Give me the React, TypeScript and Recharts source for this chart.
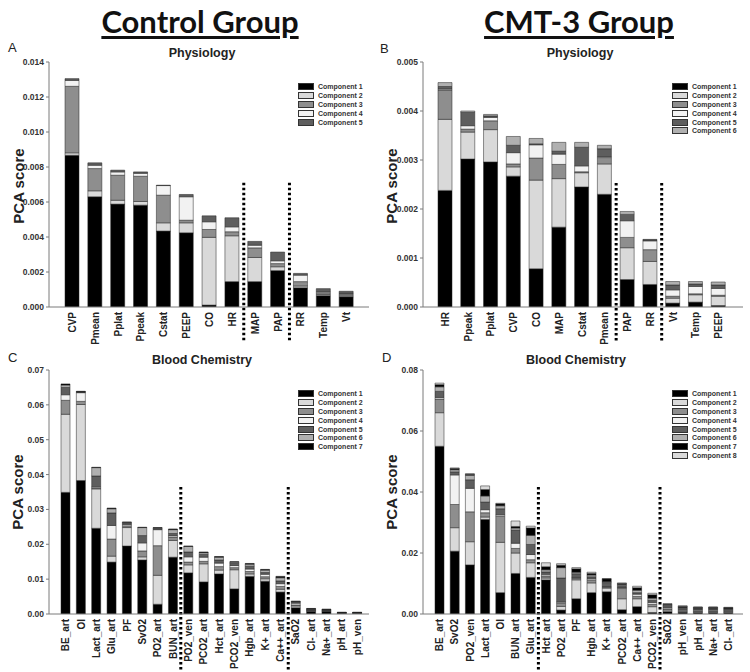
import React from 'react'
import { BarChart, Bar, XAxis, YAxis, ReferenceLine, Legend } from 'recharts'

// shades used for the stacked components (1..8)
const COMP_COLORS = ['#000000', '#d9d9d9', '#8e8e8e', '#f2f2f2', '#5e5e5e', '#b0b0b0', '#000000', '#d9d9d9']

// ---- A: Control Group, Physiology ----
const ctlPhysCats = ['CVP', 'Pmean', 'Pplat', 'Ppeak', 'Cstat', 'PEEP', 'CO', 'HR', 'MAP', 'PAP', 'RR', 'Temp', 'Vt']
const ctlPhysC1 = [0.00867, 0.0063, 0.00588, 0.00582, 0.00434, 0.00424, 0.00011, 0.00145, 0.00145, 0.00208, 0.0011, 0.00065, 0.00058]
const ctlPhysC2 = [0.00014, 0.00034, 0.00022, 0.00021, 0.00047, 0.00057, 0.00387, 0.00262, 0.00138, 0.00022, 0.0001, 0.00007, 0.00005]
const ctlPhysC3 = [0.0038, 0.00127, 0.00143, 0.00144, 0.00158, 0.00015, 0.00045, 0.00023, 0.00055, 0.00018, 0.00025, 0.0001, 0.00012]
const ctlPhysC4 = [0.00034, 0.00019, 0.00019, 0.00017, 0.00055, 0.00134, 0.00044, 0.00028, 0.00015, 0.00016, 0.00037, 0.00006, 0.00003]
const ctlPhysC5 = [0.0001, 0.00014, 0.0001, 0.00008, 0.00002, 0.00013, 0.00034, 0.00052, 0.00022, 0.0005, 0.0001, 0.00017, 0.00012]
const ctlPhysTicks = [0, 0.002, 0.004, 0.006, 0.008, 0.01, 0.012, 0.014]
const ctlPhysSplits = ['HR', 'PAP']

// ---- B: CMT-3 Group, Physiology ----
const cmtPhysCats = ['HR', 'Ppeak', 'Pplat', 'CVP', 'CO', 'MAP', 'Cstat', 'Pmean', 'PAP', 'RR', 'Vt', 'Temp', 'PEEP']
const cmtPhysC1 = [0.00238, 0.00302, 0.00296, 0.00267, 0.00078, 0.00163, 0.00245, 0.0023, 0.00056, 0.00046, 0.00008, 0.0001, 0.00003]
const cmtPhysC2 = [0.00145, 0.00055, 0.00066, 0.00019, 0.00181, 0.00099, 0.00029, 0.00062, 0.00065, 0.00047, 0.0001, 0.00015, 0.00019]
const cmtPhysC3 = [0.0006, 0.00006, 0.00018, 0.00006, 0.00045, 0.00029, 0.00002, 0.00013, 0.00021, 0.00024, 0.00004, 0.00002, 0.00002]
const cmtPhysC4 = [0.00002, 0.00007, 0.00007, 0.00023, 0.00027, 0.00021, 0.00012, 0.00002, 0.00034, 0.00018, 0.00013, 0.00015, 0.00014]
const cmtPhysC5 = [0.00005, 0.00027, 0.00003, 0.00015, 0.00002, 0.00006, 0.00038, 0.00016, 0.00013, 0.00002, 0.0001, 0.00005, 0.00007]
const cmtPhysC6 = [0.00008, 0.00003, 0.00003, 0.00018, 0.00011, 0.00018, 0.0001, 0.00007, 0.00006, 0.00001, 0.00007, 0.00005, 0.00006]
const cmtPhysTicks = [0, 0.001, 0.002, 0.003, 0.004, 0.005]
const cmtPhysSplits = ['Pmean', 'RR']

// ---- C: Control Group, Blood Chemistry ----
const ctlBloodCats = ['BE_art', 'OI', 'Lact_art', 'Glu_art', 'PF', 'SvO2', 'PO2_art', 'BUN_art', 'PO2_ven', 'PCO2_art', 'Hct_art', 'PCO2_ven', 'Hgb_art', 'K+_art', 'Ca++_art', 'SaO2', 'Cl-_art', 'Na+_art', 'pH_art', 'pH_ven']
const ctlBloodC1 = [0.0349, 0.0383, 0.0246, 0.0149, 0.0195, 0.0155, 0.0028, 0.0163, 0.0118, 0.0092, 0.0115, 0.0072, 0.0108, 0.0094, 0.0063, 0.0018, 0.0008, 0.0007, 0.0002, 0.0002]
const ctlBloodC2 = [0.0224, 0.0218, 0.0113, 0.0017, 0.0053, 0.0009, 0.0083, 0.0048, 0.0023, 0.0052, 0.0011, 0.0055, 0.0007, 0.0007, 0.0008, 0.0005, 0.0002, 0.0001, 0.00005, 0.00005]
const ctlBloodC3 = [0.004, 0.0009, 0.0003, 0.0049, 0.0004, 0.0017, 0.0085, 0.001, 0.0008, 0.0007, 0.001, 0.0006, 0.0007, 0.0006, 0.0008, 0.0003, 0.0001, 0.0001, 0.00005, 0.00005]
const ctlBloodC4 = [0.0016, 0.0025, 0.0003, 0.0039, 0.0004, 0.0023, 0.0046, 0.0004, 0.0015, 0.0012, 0.001, 0.0006, 0.0007, 0.0007, 0.0008, 0.0005, 0.0001, 0.0001, 0.00005, 0.00005]
const ctlBloodC5 = [0.0021, 0.0002, 0.0031, 0.0036, 0.0004, 0.0021, 0.0003, 0.0006, 0.0014, 0.0008, 0.0009, 0.0006, 0.0008, 0.0005, 0.0008, 0.0003, 0.0002, 0.0002, 0.00005, 0.00005]
const ctlBloodC6 = [0.0007, 0.0001, 0.0024, 0.0012, 0.0003, 0.0023, 0.0002, 0.0011, 0.0016, 0.0005, 0.0008, 0.0004, 0.0006, 0.0007, 0.0009, 0.0002, 0.0001, 0.0001, 0.00005, 0.00005]
const ctlBloodC7 = [0.0003, 0.0001, 0.0001, 0.0002, 0.0001, 0.0001, 0.0001, 0.0002, 0.0001, 0.0002, 0.0002, 0.0001, 0.0002, 0.0002, 0.0004, 0.0001, 0.0001, 0.0001, 0.00005, 0.00005]
const ctlBloodTicks = [0, 0.01, 0.02, 0.03, 0.04, 0.05, 0.06, 0.07]
const ctlBloodSplits = ['BUN_art', 'Ca++_art']

// ---- D: CMT-3 Group, Blood Chemistry ----
const cmtBloodCats = ['BE_art', 'SvO2', 'PO2_ven', 'Lact_art', 'OI', 'BUN_art', 'Glu_art', 'Hct_art', 'PO2_art', 'PF', 'Hgb_art', 'K+_art', 'PCO2_art', 'Ca++_art', 'PCO2_ven', 'SaO2', 'pH_ven', 'pH_art', 'Na+_art', 'Cl-_art']
const cmtBloodC1 = [0.055, 0.0206, 0.0161, 0.031, 0.007, 0.0133, 0.012, 0.0112, 0.0013, 0.005, 0.007, 0.0073, 0.0014, 0.0024, 0.0005, 0.0008, 0.0006, 0.0005, 0.0005, 0.0005]
const cmtBloodC2 = [0.011, 0.0077, 0.0076, 0.0008, 0.0165, 0.0067, 0.0048, 0.0006, 0.0012, 0.0062, 0.0032, 0.0012, 0.0036, 0.0026, 0.0019, 0.0005, 0.0003, 0.0003, 0.0003, 0.0003]
const cmtBloodC3 = [0.0045, 0.0076, 0.0098, 0.0014, 0.0085, 0.0015, 0.001, 0.0007, 0.001, 0.0006, 0.0008, 0.0003, 0.0035, 0.0008, 0.0008, 0.0004, 0.0003, 0.0003, 0.0003, 0.0003]
const cmtBloodC4 = [0.0005, 0.0097, 0.0077, 0.001, 0.0005, 0.0017, 0.0017, 0.0005, 0.0004, 0.0002, 0.0005, 0.0002, 0.0002, 0.0007, 0.0006, 0.0004, 0.0003, 0.0003, 0.0003, 0.0002]
const cmtBloodC5 = [0.002, 0.001, 0.0028, 0.0025, 0.002, 0.0043, 0.0033, 0.0008, 0.0079, 0.0012, 0.0007, 0.0013, 0.0006, 0.0005, 0.0007, 0.0004, 0.0003, 0.0003, 0.0003, 0.0003]
const cmtBloodC6 = [0.0015, 0.0007, 0.0015, 0.002, 0.001, 0.0007, 0.003, 0.0007, 0.0034, 0.0005, 0.0006, 0.0003, 0.0004, 0.0008, 0.0007, 0.0004, 0.0003, 0.0002, 0.0002, 0.0002]
const cmtBloodC7 = [0.0007, 0.0004, 0.0003, 0.0021, 0.0006, 0.0005, 0.0024, 0.001, 0.0008, 0.0011, 0.0005, 0.0009, 0.0003, 0.0008, 0.0011, 0.0003, 0.0004, 0.0003, 0.0003, 0.0003]
const cmtBloodC8 = [0.0005, 0.0002, 0.0002, 0.0012, 0.0002, 0.0018, 0.0006, 0.0013, 0.0005, 0.0004, 0.0004, 0.0001, 0.0002, 0.0005, 0.0005, 0.0002, 0.0002, 0.0001, 0.0001, 0.0001]
const cmtBloodTicks = [0, 0.02, 0.04, 0.06, 0.08]
const cmtBloodSplits = ['Glu_art', 'PCO2_ven']

const FONT = "Arial, 'Liberation Sans', sans-serif"
const AXIS = '#7a7a7a'

function buildRows(cats: string[], series: number[][]) {
  return cats.map((name, i) => {
    const row: Record<string, any> = { name }
    series.forEach((s, k) => { row['c' + (k + 1)] = s[i] })
    return row
  })
}

const XTick = (props: any) => {
  const { x, y, payload } = props
  return (
    <text x={x} y={y} transform={`rotate(-90 ${x} ${y})`} textAnchor="end" dy="0.35em"
      fontSize={10} fontWeight="bold" fill="#222" fontFamily={FONT}>
      {payload.value}
    </text>
  )
}

const LegendBox = (props: any) => {
  const items = props.payload || []
  return (
    <div style={{ fontFamily: FONT, fontSize: 7, fontWeight: 'bold', color: '#333' }}>
      {items.map((it: any) => (
        <div key={it.value} style={{ display: 'flex', alignItems: 'center', height: 8.8 }}>
          <span style={{ width: 14, height: 5, background: it.color, border: '0.8px solid #333', display: 'inline-block' }} />
          <span style={{ marginLeft: 4, whiteSpace: 'nowrap' }}>{it.value}</span>
        </div>
      ))}
    </div>
  )
}

interface PanelProps {
  cats: string[]
  series: number[][]
  ticks: number[]
  decimals: number
  splits: string[]
  splitRange: [number, number]
  left: number
  top: number
  height: number
  plotTop: number
  yWidth: number
  xHeight: number
  marginBottom: number
  marginRight: number
  barSize: number
  pad: { left: number; right: number }
  legendPos: { left: number; top: number }
}

function Panel(p: PanelProps) {
  const rows = buildRows(p.cats, p.series)
  const max = p.ticks[p.ticks.length - 1]
  return (
    <div style={{ position: 'absolute', left: p.left, top: p.top }}>
      <BarChart width={375} height={p.height} data={rows}
        margin={{ top: p.plotTop, right: p.marginRight, bottom: p.marginBottom, left: 0 }}>
        <XAxis dataKey="name" interval={0} tick={<XTick />} tickLine={false} tickSize={3}
          height={p.xHeight} padding={p.pad} axisLine={{ stroke: AXIS }} />
        <XAxis xAxisId="top" orientation="top" dataKey="name" tick={false} tickLine={false}
          height={0} axisLine={{ stroke: AXIS }} />
        <YAxis domain={[0, max]} ticks={p.ticks} width={p.yWidth} tickSize={3} interval={0}
          tickFormatter={(v: number) => v.toFixed(p.decimals)} axisLine={{ stroke: AXIS }}
          tickLine={{ stroke: AXIS }} allowDataOverflow
          tick={{ fontSize: 8.5, fontWeight: 'bold', fill: '#333', fontFamily: FONT }} />
        <YAxis yAxisId="r" orientation="right" tick={false} tickLine={false} width={0}
          axisLine={{ stroke: AXIS }} />
        {p.series.map((_, k) => (
          <Bar key={k} dataKey={'c' + (k + 1)} name={'Component ' + (k + 1)} stackId="s"
            fill={COMP_COLORS[k]} stroke="#222" strokeWidth={0.5} barSize={p.barSize}
            isAnimationActive={false} />
        ))}
        {p.splits.map((c) => (
          <ReferenceLine key={c} position="end" ifOverflow="visible"
            segment={[{ x: c, y: p.splitRange[0] }, { x: c, y: p.splitRange[1] }]}
            stroke="#000" strokeWidth={3} strokeDasharray="2.5 2.5" />
        ))}
        <Legend layout="vertical" align="center" verticalAlign="middle" content={<LegendBox />}
          wrapperStyle={{ left: p.legendPos.left, top: p.legendPos.top, width: 70 }} />
      </BarChart>
    </div>
  )
}

const txt = (s: React.CSSProperties): React.CSSProperties => ({ position: 'absolute', whiteSpace: 'nowrap', fontFamily: FONT, ...s })

function YLabel({ x, y }: { x: number; y: number }) {
  return (
    <div style={txt({ left: x, top: y, transform: 'translate(-50%, -50%) rotate(-90deg)', fontSize: 15, fontWeight: 'bold', color: '#222' })}>
      PCA score
    </div>
  )
}

function Title({ x, y, text, size = 12.5 }: { x: number; y: number; text: string; size?: number }) {
  return (
    <div style={txt({ left: x, top: y, transform: 'translate(-50%, -50%)', fontSize: size, fontWeight: 'bold', color: '#222' })}>
      {text}
    </div>
  )
}

export default function App() {
  return (
    <div style={{ position: 'absolute', left: 0, top: 0, width: 750, height: 672, background: '#fff', overflow: 'hidden' }}>
      <Panel cats={ctlPhysCats} series={[ctlPhysC1, ctlPhysC2, ctlPhysC3, ctlPhysC4, ctlPhysC5]}
        ticks={ctlPhysTicks} decimals={3} splits={ctlPhysSplits} splitRange={[0.0071, -0.002]}
        left={0} top={0} height={350} plotTop={62} yWidth={49} xHeight={40} marginBottom={3} marginRight={6}
        barSize={14} pad={{ left: 12, right: 11 }} legendPos={{ left: 298, top: 82.6 }} />
      <Panel cats={cmtPhysCats} series={[cmtPhysC1, cmtPhysC2, cmtPhysC3, cmtPhysC4, cmtPhysC5, cmtPhysC6]}
        ticks={cmtPhysTicks} decimals={3} splits={cmtPhysSplits} splitRange={[0.00253, -0.00071]}
        left={375} top={0} height={350} plotTop={62} yWidth={48} xHeight={40} marginBottom={3} marginRight={7}
        barSize={14} pad={{ left: 11, right: 13 }} legendPos={{ left: 297, top: 82.6 }} />
      <Panel cats={ctlBloodCats} series={[ctlBloodC1, ctlBloodC2, ctlBloodC3, ctlBloodC4, ctlBloodC5, ctlBloodC6, ctlBloodC7]}
        ticks={ctlBloodTicks} decimals={2} splits={ctlBloodSplits} splitRange={[0.0364, -0.0161]}
        left={0} top={350} height={322} plotTop={20} yWidth={49} xHeight={55} marginBottom={3} marginRight={6}
        barSize={9} pad={{ left: 9, right: 4 }} legendPos={{ left: 298, top: 39.6 }} />
      <Panel cats={cmtBloodCats} series={[cmtBloodC1, cmtBloodC2, cmtBloodC3, cmtBloodC4, cmtBloodC5, cmtBloodC6, cmtBloodC7, cmtBloodC8]}
        ticks={cmtBloodTicks} decimals={2} splits={cmtBloodSplits} splitRange={[0.0416, -0.0184]}
        left={375} top={350} height={322} plotTop={20} yWidth={48} xHeight={55} marginBottom={3} marginRight={7}
        barSize={9} pad={{ left: 9, right: 7 }} legendPos={{ left: 297, top: 39.6 }} />

      <div style={txt({ left: 200, top: 21, transform: 'translate(-50%, -50%)', fontFamily: 'Lato, sans-serif', fontSize: 31, fontWeight: 'bold', color: '#111', textDecoration: 'underline', textDecorationThickness: 3, textUnderlineOffset: 3 })}>
        Control Group
      </div>
      <div style={txt({ left: 579, top: 21, transform: 'translate(-50%, -50%)', fontFamily: 'Lato, sans-serif', fontSize: 31, fontWeight: 'bold', color: '#111', textDecoration: 'underline', textDecorationThickness: 3, textUnderlineOffset: 3 })}>
        CMT-3 Group
      </div>

      <div style={txt({ left: 8, top: 40, fontSize: 13, color: '#222' })}>A</div>
      <div style={txt({ left: 380, top: 41, fontSize: 13, color: '#222' })}>B</div>
      <div style={txt({ left: 8, top: 350, fontSize: 13, color: '#222' })}>C</div>
      <div style={txt({ left: 382, top: 350, fontSize: 13, color: '#222' })}>D</div>

      <Title x={202} y={53} text="Physiology" />
      <Title x={580} y={53} text="Physiology" />
      <Title x={202} y={360} text="Blood Chemistry" />
      <Title x={576} y={360} text="Blood Chemistry" />

      <YLabel x={18} y={186} />
      <YLabel x={391} y={186} />
      <YLabel x={17} y={492} />
      <YLabel x={391} y={492} />
    </div>
  )
}
